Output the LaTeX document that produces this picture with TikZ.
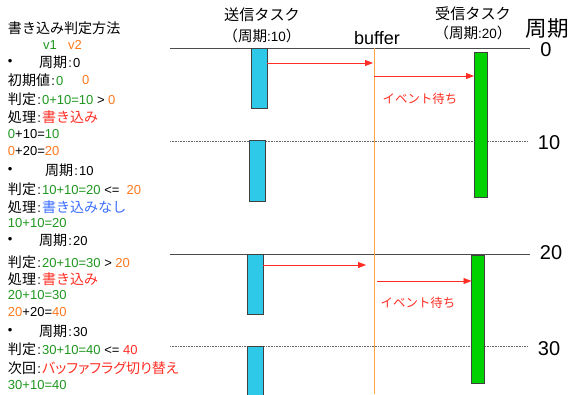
\documentclass[tikz,border=0pt]{standalone}
\usepackage{fontspec}
\setmainfont{Liberation Sans}
\newfontfamily\jp[Scale=1.08]{Noto Sans CJK JP}
\newfontfamily\jpp[Scale=1.08,RawFeature=+palt]{Noto Sans CJK JP}
\usetikzlibrary{arrows.meta}
\definecolor{vgreen}{RGB}{30,150,30}
\definecolor{vorange}{RGB}{255,120,30}
\definecolor{vred}{RGB}{255,45,35}
\definecolor{vblue}{RGB}{60,110,255}
\definecolor{sendfill}{RGB}{46,200,232}
\definecolor{recvfill}{RGB}{0,210,0}
\definecolor{bufline}{RGB}{255,165,70}
\newcommand{\myg}[1]{\textcolor{vgreen}{#1}}
\newcommand{\myo}[1]{\textcolor{vorange}{#1}}
\newcommand{\myr}[1]{\textcolor{vred}{#1}}
\newcommand{\myb}[1]{\textcolor{vblue}{#1}}
\newcommand{\J}[1]{{\jp #1}}
\newcommand{\JP}[1]{{\jpp #1}}
\newcommand{\cln}{\hspace{1.2pt}:\hspace{1.2pt}}
\begin{document}
\begin{tikzpicture}[x=1pt,y=-1pt,
  txt/.style={anchor=west, inner sep=0pt, outer sep=0pt, font=\fontsize{13}{15}\selectfont},
  hdr/.style={inner sep=0pt, font=\fontsize{14}{16}\selectfont},
  hdrsmall/.style={inner sep=0pt, font=\fontsize{13.5}{15}\selectfont},
  bignum/.style={inner sep=0pt, font=\fontsize{20}{22}\selectfont},
  sendbox/.style={draw=black!75, line width=0.8pt, fill=sendfill, anchor=north, minimum width=16pt, inner sep=0pt, outer sep=0pt},
  recvbox/.style={draw=black!75, line width=0.8pt, fill=recvfill, anchor=north, minimum width=13pt, inner sep=0pt, outer sep=0pt},
  arr/.style={draw=vred, line width=0.8pt, -{Triangle[length=8pt,width=6pt]}},
  evt/.style={inner sep=0pt, text=vred, font=\fontsize{11.5}{13}\selectfont},
  solidline/.style={draw=black!70, line width=0.8pt},
  dotline/.style={draw=black!60, line width=0.6pt, densely dotted},
]
\useasboundingbox (0,0) rectangle (569,394);

% time lines
\draw[solidline] (170,48) -- (530,48);
\draw[dotline] (170,141) -- (528,141);
\draw[solidline] (170,254) -- (530,254);
\draw[dotline] (170,346) -- (528,346);

% buffer line
\coordinate (bt) at (374,48);
\coordinate (bb) at (374,394);
\draw[bufline, line width=0.9pt] (bt) -- (bb);

% headers
\node[hdr] (h1) at (262,15) {\J{送信タスク}};
\node[hdrsmall] (h1b) at (262,36) {\J{（周期}:10\J{）}};
\node[inner sep=0pt, font=\fontsize{18}{20}\selectfont] (hbuf) at (377,38) {buffer};
\node[hdr] (h2) at (473,14) {\J{受信タスク}};
\node[hdrsmall] (h2b) at (473,33) {\J{（周期}:20\J{）}};
\node[bignum] (hp) at (547,28) {\J{周期}};
\node[bignum] (n0) at (546,50) {0};
\node[bignum] (n10) at (549,143) {10};
\node[bignum] (n20) at (551,253) {20};
\node[bignum] (n30) at (549,349) {30};

% send task boxes
\node[sendbox, minimum height=60pt] (s1) at (259,48) {};
\node[sendbox, minimum height=61pt] (s2) at (257.5,140) {};
\node[sendbox, minimum height=60pt] (s3) at (255,254) {};
\node[sendbox, minimum height=54pt] (s4) at (255,346) {};

% receive task boxes
\node[recvbox, minimum height=145pt] (g1) at (480.5,52) {};
\node[recvbox, minimum height=128pt] (g2) at (478,255) {};

% arrows
\coordinate (a1e) at (373,63);
\draw[arr] (s1.east |- a1e) -- (a1e);
\coordinate (a2s) at (374,76);
\draw[arr] (a2s) -- (g1.west |- a2s);
\node[evt] (e1) at (420,99) {\J{イベント待ち}};
\coordinate (a3e) at (366,265);
\draw[arr] (s3.east |- a3e) -- (a3e);
\coordinate (a4s) at (377,281);
\draw[arr] (a4s) -- (g2.west |- a4s);
\node[evt] (e2) at (418,303) {\J{イベント待ち}};

% left text
\node[txt] (t1) at (8,28) {\J{書き込み判定方法}};
\node[txt] (t2a) at (43,45) {\myg{v1}};
\node[txt] (t2b) at (68,45) {\myo{v2}};
\node[txt] (t3a) at (8,62) {•};
\node[txt] (t3b) at (39,62) {\J{周期}\cln 0};
\node[txt] (t4) at (8,80) {\J{初期値}\cln\myg{0}};
\node[txt] (t4b) at (82,80) {\myo{0}};
\node[txt] (t5) at (8,99) {\J{判定}\cln\myg{0+10=10} > \myo{0}};
\node[txt] (t6) at (8,117) {\J{処理}\cln\myr{\J{書き込み}}};
\node[txt] (t7) at (8,134) {\myg{0}+10=\myg{10}};
\node[txt] (t8) at (8,151) {\myo{0}+20=\myo{20}};
\node[txt] (t9a) at (8,170) {•};
\node[txt] (t9b) at (45,170) {\J{周期}\cln 10};
\node[txt] (t10) at (8,189) {\J{判定}\cln\myg{10+10=20} <=\ \ \myo{20}};
\node[txt] (t11) at (8,207) {\J{処理}\cln\myb{\J{書き込みなし}}};
\node[txt] (t12) at (8,223) {\myg{10+10=20}};
\node[txt] (t13a) at (8,240) {•};
\node[txt] (t13b) at (39,240) {\J{周期}\cln 20};
\node[txt] (t14) at (8,262) {\J{判定}\cln\myg{20+10=30} > \myo{20}};
\node[txt] (t15) at (8,279) {\J{処理}\cln\myr{\J{書き込み}}};
\node[txt] (t16) at (8,295) {\myg{20+10=30}};
\node[txt] (t17) at (8,312) {\myo{20}+20=\myo{40}};
\node[txt] (t18a) at (8,331) {•};
\node[txt] (t18b) at (39,331) {\J{周期}\cln 30};
\node[txt] (t19) at (8,349) {\J{判定}\cln\myg{30+10=40} <= \myr{40}};
\node[txt] (t20) at (8,368) {\J{次回}\cln\myr{\JP{バッファフラグ切り替え}}};
\node[txt] (t21) at (8,385) {\myg{30+10=40}};
\end{tikzpicture}
\end{document}
